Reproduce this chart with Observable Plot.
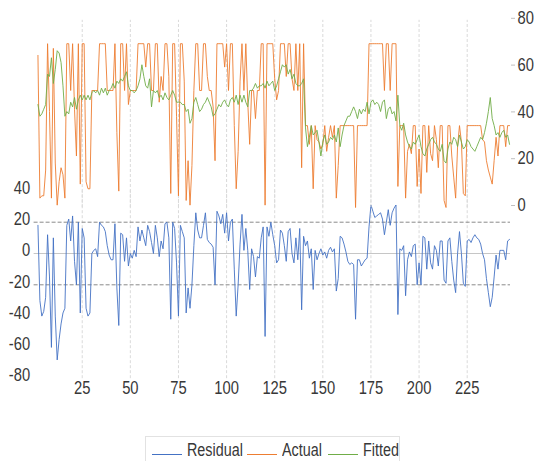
<!DOCTYPE html>
<html>
<head>
<meta charset="utf-8">
<script src="https://cdn.jsdelivr.net/npm/d3@7"></script>
<script src="https://cdn.jsdelivr.net/npm/@observablehq/plot@0.6"></script>
<style>
  html, body { margin: 0; padding: 0; background: #fff; }
  #wrap { position: relative; width: 534px; height: 461px; overflow: hidden; }
  #chart { position: absolute; left: 0; top: 0; width: 534px; height: 420px; }
  #chart svg { position: absolute; left: 0; top: 0; }
  #legend { position: absolute; left: 145px; top: 436px; width: 255px; height: 32px;
            border: 1px solid #e2e2e2; box-sizing: border-box; background: #fff; }
  .sw { position: absolute; top: 17px; width: 30px; height: 0; border-top: 1.6px solid; }
  .lt { position: absolute; top: 3px; font-size: 17.5px; line-height: normal; color: #383838;
        white-space: nowrap; transform: scaleX(0.82); transform-origin: 0 50%; }
</style>
</head>
<body>
<div id="wrap">
  <div id="chart"></div>
  <div id="legend"></div>
</div>
<script>
// ---------- data ----------
const firstObs = 2;

const residual = [
  18, -30, -40, -37, -28, 12, -15, -60, 10, -40,
  -68, -55, -45, -38, -35, 18, 22, 8, 24, -5,
  -20, 20, -38, 16, 10, -35, -40, -38, 0, 2,
  3, -2, 20, 18, 17, 14, 5, -1, -4, -4,
  19, -22, -46, 13, 12, -5, 10, -8, 0, -3,
  2, -2, 17, 8, 15, 10, 5, 18, 14, 7,
  0, 18, 10, -2, 8, 3, 19, 20, 10, -42,
  20, 16, -6, -40, 18, 14, 10, -38, -22, -35,
  -20, 5, 26, 15, 10, 10, 18, 26, 9, 7,
  6, 4, -20, 27, 24, 19, 25, 13, 26, 8,
  20, 22, -10, -40, -20, 6, 25, 2, 16, 2,
  -23, 3, -2, -15, -2, -3, 10, 17, -53, 17,
  11, 20, 12, 5, -6, -4, 15, 13, 5, -5,
  14, 16, 0, -6, 10, -4, 16, -36, 11, 5,
  8, -3, 3, -23, 2, -4, 0, 3, -1, 1,
  -3, 2, 4, 1, 3, -24, -16, 11, 10, 6,
  1, -5, -7, -6, -7, -42, -4, -4, -8, -6,
  -4, -3, 17, 31, 27, 23, 24, 25, 26, 22,
  12, 20, 28, 18, 26, 29, 31, -39, 3, 2,
  5, -27, -4, 1, -2, 5, 6, -20, -6, -20,
  11, 10, -10, 8, -6, -10, 5, 2, -8, 8,
  8, -17, -19, 8, 10, -5, -17, -25, 0, 14,
  0, -19, -21, 8, 9, 7, 10, 12, 10, 9,
  6, 0, -4, -16, -25, -34, -28, -15, -1, -10,
  2, 2, 2, -4, 8, 9
];

const actual = [
  65, 4, 5, 5, 16, 70, 41, 4, 68, 19,
  1, 11, 17, 14, 4, 70, 70, 50, 70, 42,
  22, 70, 10, 70, 70, 11, 8, 8, 50, 50,
  50, 50, 70, 70, 70, 70, 50, 50, 50, 50,
  70, 32, 7, 70, 70, 50, 70, 44, 50, 50,
  50, 50, 70, 70, 70, 70, 60, 70, 70, 50,
  50, 70, 70, 45, 56, 50, 70, 70, 56, 6,
  70, 70, 39, 5, 70, 70, 54, 3, 20, 1,
  18, 50, 70, 70, 50, 50, 70, 70, 56, 50,
  50, 43, 20, 70, 70, 70, 70, 60, 70, 50,
  70, 70, 35, 8, 24, 54, 70, 50, 70, 45,
  27, 50, 50, 38, 50, 50, 70, 70, 1, 70,
  70, 70, 70, 55, 46, 50, 70, 70, 70, 56,
  70, 70, 55, 50, 70, 50, 70, 17, 70, 35,
  35, 27, 35, 8, 35, 29, 28, 25, 27, 35,
  24, 30, 35, 30, 35, 4, 18, 35, 35, 35,
  35, 35, 35, 35, 35, 0, 35, 35, 35, 35,
  35, 35, 70, 70, 70, 70, 70, 70, 70, 70,
  50, 70, 70, 50, 70, 70, 70, 9, 35, 35,
  35, 4, 24, 27, 23, 35, 35, 9, 25, 6,
  35, 35, 15, 35, 23, 20, 35, 29, 17, 35,
  35, 3, 0, 35, 35, 22, 13, 4, 26, 35,
  28, 6, 5, 35, 35, 35, 35, 35, 35, 35,
  35, 29, 28, 20, 16, 13, 10, 20, 30, 22,
  35, 35, 35, 26, 35, 35
];

const fitted = [
  44, 39, 40, 42, 44, 57, 56, 64, 53, 59,
  67, 66, 62, 52, 39, 41, 40, 45, 43, 47,
  42, 46, 48, 46, 48, 46, 48, 46, 49, 50,
  49, 50, 48, 51, 49, 51, 48, 50, 51, 53,
  51, 54, 53, 55, 54, 56, 58, 52, 50, 50,
  49, 50, 52, 55, 61, 56, 52, 51, 55, 43,
  50, 49, 50, 47, 48, 46, 49, 47, 46, 48,
  50, 48, 45, 45, 45, 44, 44, 41, 42, 36,
  38, 45, 47, 44, 41, 42, 44, 45, 47, 45,
  43, 39, 40, 42, 44, 43, 45, 46, 44, 43,
  46, 47, 45, 48, 44, 48, 45, 48, 45, 43,
  50, 50, 51, 53, 51, 52, 52, 53, 51, 54,
  52, 53, 54, 50, 52, 55, 58, 61, 60, 61,
  57, 59, 55, 57, 53, 52, 52, 53, 55, 34,
  26, 30, 35, 31, 32, 33, 28, 22, 28, 31,
  27, 28, 30, 29, 31, 28, 34, 26, 31, 35,
  37, 39, 39, 41, 43, 41, 38, 42, 40, 42,
  41, 45, 40, 45, 46, 44, 45, 44, 41, 45,
  46, 38, 42, 43, 40, 41, 37, 48, 35, 33,
  36, 31, 28, 26, 25, 28, 27, 29, 31, 26,
  23, 22, 25, 27, 29, 30, 28, 27, 25, 24,
  27, 20, 19, 25, 28, 27, 30, 29, 26, 31,
  28, 25, 26, 29, 28, 26, 25, 24, 26, 28,
  30, 29, 32, 36, 41, 47, 38, 35, 31, 32,
  30, 32, 33, 30, 31, 27
];

const xTicks = [25, 50, 75, 100, 125, 150, 175, 200, 225];
const residTicks = [40, 20, 0, -20, -40, -60, -80];
const levelTicks = [0, 20, 40, 60, 80];
const zeroLine = [0];
const bandLines = [20, -20];

const seriesNames = ["Residual", "Actual", "Fitted"];
const seriesColors = ["#4472C4", "#ED7D31", "#70AD47"];

// ---------- table ----------
const rows = residual.map((r, k) => ({
  obs: firstObs + k, residual: r, actual: actual[k], fitted: fitted[k]
}));

const FONT = '"Liberation Sans", Arial, sans-serif';
const NARROW = 0.82;
const W = 534, H = 420;
const ML = 33.6, MR = 24;
const XD = [0, 247.5];
const baseStyle = {background: "transparent", fontFamily: FONT, fontSize: "18px", color: "#383838", overflow: "visible"};

// Residual panel (left axis)
const residPlot = Plot.plot({
  width: W, height: H,
  marginLeft: ML, marginRight: MR, marginTop: 190.4, marginBottom: 41.8,
  style: baseStyle,
  x: {domain: XD},
  y: {domain: [-80, 40]},
  marks: [
    Plot.ruleX(xTicks, {y1: -80, y2: 40, stroke: "#dadada", strokeDasharray: "3,2"}),
    Plot.ruleY(zeroLine, {stroke: "#c6c6c6", strokeWidth: 1}),
    Plot.ruleY(bandLines, {stroke: "#8a8a8a", strokeDasharray: "4,2", strokeWidth: 1}),
    Plot.line(rows, {x: "obs", y: "residual", stroke: seriesColors[0], strokeWidth: 0.9}),
    Plot.axisX({ticks: xTicks, tickSize: 0, tickPadding: 3, label: null, fill: "#383838"}),
    Plot.axisY({ticks: residTicks, tickSize: 0, tickPadding: 4, label: null, dy: -3,
                tickFormat: d => String(d), fill: "#383838"})
  ]
});

// Actual / Fitted panel (right axis)
const levelPlot = Plot.plot({
  width: W, height: H,
  marginLeft: ML, marginRight: MR, marginTop: 19.8, marginBottom: 213,
  style: baseStyle,
  x: {domain: XD, axis: null},
  y: {domain: [0, 80], axis: null},
  marks: [
    Plot.ruleX(xTicks, {y1: 0, y2: 80, stroke: "#dadada", strokeDasharray: "3,2"}),
    Plot.line(rows, {x: "obs", y: "actual", stroke: seriesColors[1], strokeWidth: 0.9}),
    Plot.line(rows, {x: "obs", y: "fitted", stroke: seriesColors[2], strokeWidth: 0.9}),
    Plot.axisY({anchor: "right", ticks: levelTicks, tickSize: 4, tickPadding: 3, label: null,
                dy: -2, stroke: "#c0c0c0", fill: "#383838", tickFormat: d => String(d)})
  ]
});

const chart = document.getElementById("chart");
chart.appendChild(residPlot);
chart.appendChild(levelPlot);

// Narrow the tick labels horizontally around their anchor (Arial Narrow look)
function narrowTexts(svg, k) {
  svg.querySelectorAll("text").forEach(t => {
    const orig = t.getAttribute("transform") || "";
    let e = 0, f = 0;
    const tl = t.transform.baseVal;
    if (tl.numberOfItems) { const m = tl.consolidate().matrix; e = m.e; f = m.f; }
    const x = t.x.baseVal.numberOfItems ? t.x.baseVal.getItem(0).value : 0;
    const y = t.y.baseVal.numberOfItems ? t.y.baseVal.getItem(0).value : 0;
    const ax = e + x, ay = f + y;
    t.setAttribute("transform", `translate(${ax},${ay}) scale(${k},1) translate(${-ax},${-ay}) ${orig}`);
  });
}
narrowTexts(residPlot, NARROW);
narrowTexts(levelPlot, NARROW);

// Legend
const legend = document.getElementById("legend");
const swatchLeft = [6, 101, 182];
seriesNames.forEach((name, k) => {
  const sw = document.createElement("div");
  sw.className = "sw";
  sw.style.left = swatchLeft[k] + "px";
  sw.style.borderTopColor = seriesColors[k];
  legend.appendChild(sw);
  const t = document.createElement("div");
  t.className = "lt";
  t.style.left = (swatchLeft[k] + 35) + "px";
  t.style.fontFamily = FONT;
  t.textContent = name;
  legend.appendChild(t);
});
</script>
</body>
</html>
